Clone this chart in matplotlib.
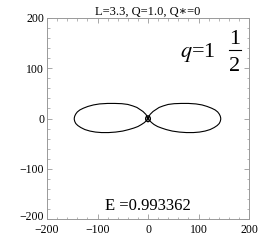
#!/usr/bin/env python3
"""Orbit plot: figure-eight trajectory for L=3.3, Q=1.0, Q*=0."""
import matplotlib
matplotlib.use("Agg")
import matplotlib.pyplot as plt
import matplotlib.transforms as mtrans
from matplotlib.ticker import MultipleLocator

plt.rcParams["font.family"] = ["Liberation Serif", "DejaVu Serif"]
plt.rcParams["mathtext.fontset"] = "stix"

TITLE = "L=3.3, Q=1.0, Q\u2217=0"
ENERGY = "E =0.993362"
TICKS = [-200, -100, 0, 100, 200]
TICK_LABELS = ["\u2212200", "\u2212100", "0", "100", "200"]

# left lobe: origin -> upper edge -> left tip -> lower edge -> origin
left_x = [0, -4, -10, -16, -22, -30, -40, -52, -66, -80, -96, -108, -119, -128, -135, -140, -143, -145, -146,
          -146, -145, -143, -139, -133, -125, -115, -104, -92, -78, -64, -50, -38, -28, -20, -13, -7, -3, 0]
left_y = [0, 8, 14, 18, 22, 25, 28, 29.5, 30, 30, 29, 27, 24, 20.5, 17, 13, 9, 5, 1,
          -2, -6, -10, -14, -18, -22, -25, -27, -28, -28, -27, -25, -22, -19, -16, -12, -8, -4, 0]
# right lobe: origin -> upper edge -> right tip -> lower edge -> origin
right_x = [0, 4, 10, 16, 22, 30, 40, 52, 66, 80, 95, 107, 117, 126, 133, 138, 141, 143, 144,
           144, 143, 141, 137, 131, 123, 113, 102, 90, 76, 62, 48, 36, 27, 19, 12, 7, 3, 0]
right_y = [0, 8, 14, 18, 22, 25, 28, 29.5, 30, 30, 29, 27, 24, 20.5, 17, 13, 9, 5, 1,
           -2, -6, -10, -14, -18, -22, -25, -27, -28, -28, -27, -25, -22, -19, -16, -12, -8, -4, 0]
# small whirl around the centre
whirl_x = [0, 3, 4.5, 4.5, 3, 0, -3, -4.5, -4.5, -3, 0]
whirl_y = [-6, -5, -2, 1, 4, 5.5, 4, 1, -2, -5, -6]

fig = plt.figure(figsize=(2.66, 2.52), dpi=100)
ax = fig.add_axes([47 / 266, 1 - 219 / 252, 202 / 266, 201 / 252])

ax.plot(left_x, left_y, color="black", lw=0.8)
ax.plot(right_x, right_y, color="black", lw=0.8)
ax.plot(whirl_x, whirl_y, color="black", lw=1.0)

ax.set_xlim(-200, 200)
ax.set_ylim(-200, 200)
ax.set_xticks(TICKS)
ax.set_xticklabels(TICK_LABELS)
ax.set_yticks(TICKS)
ax.set_yticklabels(TICK_LABELS)
ax.xaxis.set_minor_locator(MultipleLocator(20))
ax.yaxis.set_minor_locator(MultipleLocator(20))
ax.tick_params(which="both", direction="in", top=True, right=True,
               color="#999999", labelsize=8.5)
ax.tick_params(axis="x", pad=3.5)
ax.tick_params(axis="y", pad=2)
ax.tick_params(which="major", length=3.5, width=0.6)
ax.tick_params(which="minor", length=1.8, width=0.5)
for s in ax.spines.values():
    s.set_color("#999999")
    s.set_linewidth(0.7)

# lift the bottom y label a touch so it clears the x label below it
lbl = ax.get_yticklabels()[0]
lbl.set_transform(lbl.get_transform() +
                  mtrans.ScaledTranslation(0, 2.5 / 72, fig.dpi_scale_trans))

ax.set_title(TITLE, fontsize=9, pad=2.5)
ax.text(0.5, 0.065, ENERGY, transform=ax.transAxes, ha="center",
        va="center", fontsize=12)

# q = 1 1/2 label
ax.text(0.832, 0.806, r"$q$=1", transform=ax.transAxes, ha="right",
        va="baseline", fontsize=16)
ax.text(0.931, 0.871, "1", transform=ax.transAxes, ha="center",
        va="baseline", fontsize=16)
ax.text(0.931, 0.736, "2", transform=ax.transAxes, ha="center",
        va="baseline", fontsize=16)
ax.plot([0.901, 0.960], [0.841, 0.841], transform=ax.transAxes,
        color="black", lw=0.8, clip_on=False)

fig.savefig("out.png", dpi=100)
